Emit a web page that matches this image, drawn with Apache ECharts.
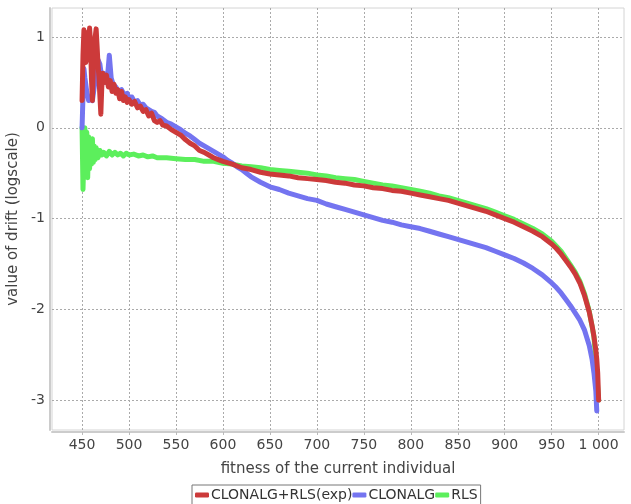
<!DOCTYPE html>
<html><head><meta charset="utf-8">
<script src="https://cdn.jsdelivr.net/npm/echarts@6/dist/echarts.min.js"></script>
<style>html,body{margin:0;padding:0;background:#fff}#c{width:631px;height:504px}</style>
</head><body><div id="c"></div>
<script>
const xTicks = [450, 500, 550, 600, 650, 700, 750, 800, 850, 900, 950, 1000];
const yTicks = [-3, -2, -1, 0, 1];
const seriesNames = ['CLONALG+RLS(exp)', 'CLONALG', 'RLS'];

const redX = [450,451,452,454,456,457,458,459,460,461,462,463,464,465,466,467,468,469,470,471,472,474,476,478,480,482,484,486,488,490,492,494,496,498,500,503,506,509,512,515,518,521,524,527,530,533,536,540,545,550,555,560,565,570,575,580,585,590,595,600,610,620,630,640,650,660,670,680,690,700,710,720,730,740,750,760,770,780,790,800,810,820,830,840,850,860,870,880,890,900,910,920,930,940,950,955,960,965,970,975,980,985,990,993,995,997,998,999,1000];
const redY = [0.30,0.80,1.08,0.72,1.05,0.75,1.10,0.95,0.55,0.30,0.65,0.85,1.00,1.09,0.90,0.70,0.55,0.35,0.15,0.45,0.60,0.50,0.58,0.45,0.52,0.40,0.48,0.38,0.42,0.32,0.40,0.30,0.34,0.28,0.31,0.26,0.29,0.22,0.24,0.18,0.20,0.13,0.16,0.08,0.06,0.08,0.03,0.02,-0.02,-0.05,-0.08,-0.13,-0.17,-0.20,-0.25,-0.27,-0.30,-0.33,-0.35,-0.37,-0.40,-0.44,-0.46,-0.49,-0.51,-0.52,-0.53,-0.55,-0.56,-0.57,-0.58,-0.60,-0.61,-0.63,-0.64,-0.66,-0.67,-0.69,-0.70,-0.72,-0.74,-0.76,-0.78,-0.80,-0.83,-0.86,-0.89,-0.92,-0.96,-1.00,-1.04,-1.09,-1.14,-1.20,-1.28,-1.33,-1.39,-1.46,-1.53,-1.61,-1.71,-1.85,-2.03,-2.18,-2.30,-2.45,-2.55,-2.70,-3.00];

const blueX = [450,451,452,453,455,457,459,461,463,465,467,469,471,473,475,477,479,481,483,486,489,492,495,498,500,503,506,509,512,515,518,521,524,527,530,535,540,545,550,555,560,565,570,575,580,585,590,595,600,605,610,615,620,625,630,640,650,660,670,680,690,700,710,720,730,740,750,760,770,780,790,800,810,820,830,840,850,860,870,880,890,900,910,920,930,940,950,955,960,965,970,975,980,985,990,993,995,997,998];
const blueY = [0.00,0.35,0.65,0.55,0.40,0.30,0.33,0.30,0.45,0.60,0.75,0.70,0.55,0.60,0.50,0.55,0.80,0.55,0.48,0.45,0.40,0.42,0.36,0.38,0.33,0.34,0.28,0.30,0.25,0.26,0.22,0.20,0.18,0.17,0.13,0.10,0.06,0.04,0.01,-0.02,-0.06,-0.09,-0.13,-0.17,-0.20,-0.23,-0.26,-0.29,-0.32,-0.36,-0.39,-0.43,-0.46,-0.50,-0.54,-0.60,-0.65,-0.68,-0.72,-0.75,-0.78,-0.80,-0.84,-0.87,-0.90,-0.93,-0.96,-0.99,-1.02,-1.04,-1.07,-1.09,-1.11,-1.14,-1.17,-1.20,-1.23,-1.26,-1.29,-1.32,-1.36,-1.40,-1.44,-1.49,-1.55,-1.62,-1.71,-1.76,-1.82,-1.89,-1.96,-2.04,-2.12,-2.23,-2.40,-2.55,-2.70,-2.90,-3.12];

const greenX = [450,451,452,453,454,455,456,457,458,459,460,461,462,463,464,465,467,469,471,473,476,479,482,485,488,491,494,497,500,505,510,515,520,525,530,540,550,560,570,580,590,600,610,620,630,640,650,660,670,680,690,700,710,720,730,740,750,760,770,780,790,800,810,820,830,840,850,860,870,880,890,900,910,920,930,940,950,960,970,975,980,985,990,995,1000];
const greenY = [0.00,-0.68,-0.30,0.00,-0.20,-0.05,-0.55,-0.10,-0.45,-0.15,-0.40,-0.12,-0.38,-0.20,-0.35,-0.22,-0.33,-0.25,-0.30,-0.27,-0.31,-0.26,-0.30,-0.27,-0.30,-0.28,-0.31,-0.28,-0.30,-0.29,-0.31,-0.30,-0.32,-0.31,-0.33,-0.33,-0.34,-0.35,-0.35,-0.37,-0.37,-0.39,-0.40,-0.42,-0.43,-0.44,-0.46,-0.47,-0.48,-0.49,-0.50,-0.52,-0.53,-0.55,-0.56,-0.57,-0.59,-0.61,-0.63,-0.64,-0.66,-0.68,-0.70,-0.72,-0.75,-0.77,-0.80,-0.83,-0.86,-0.89,-0.93,-0.97,-1.01,-1.06,-1.11,-1.17,-1.25,-1.36,-1.51,-1.59,-1.69,-1.83,-2.02,-2.30,-3.00];

const zip = (xs, ys) => xs.map((x, i) => [x, ys[i]]);
const colors = ['#cc3a3a', '#7474f0', '#5cef5c'];
const font = 'DejaVu Sans';

const chart = echarts.init(document.getElementById('c'), null, {renderer: 'canvas'});
const mk = (name, data, color, z) => ({
  name, type: 'line', data, z, showSymbol: false, symbol: 'none', animation: false,
  lineStyle: {width: 5, color, join: 'round', cap: 'round'}, itemStyle: {color}
});
chart.setOption({
  animation: false,
  backgroundColor: '#fff',
  grid: {left: 52, right: 7, top: 8, bottom: 74, outerBoundsMode: 'none', containLabel: false,
    show: true, borderColor: '#d4d4d4', borderWidth: 1, backgroundColor: '#fff'},
  xAxis: {
    type: 'value', min: 418, max: 1027, offset: 2,
    name: 'fitness of the current individual', nameLocation: 'middle', nameGap: 30,
    nameTextStyle: {fontFamily: font, fontSize: 15, color: '#444'},
    axisLine: {show: true, onZero: false, lineStyle: {color: '#cccccc', width: 2}},
    axisTick: {show: true, length: 3, lineStyle: {color: '#bbb'}, customValues: xTicks},
    axisLabel: {customValues: xTicks, fontFamily: font, fontSize: 14, color: '#444', margin: 6,
      formatter: v => v >= 1000 ? String(v).replace(/(\d)(\d{3})$/, '$1 $2') : String(v)},
    splitLine: {show: true, lineStyle: {color: '#aaaaaa', type: [2, 2], width: 1}}
  },
  yAxis: {
    type: 'value', min: -3.33, max: 1.32, offset: 2,
    name: 'value of drift (logscale)', nameLocation: 'middle', nameGap: 28,
    nameTextStyle: {fontFamily: font, fontSize: 15, color: '#444'},
    axisLine: {show: true, onZero: false, lineStyle: {color: '#cccccc', width: 2}},
    axisTick: {show: false, customValues: yTicks},
    axisLabel: {customValues: yTicks, fontFamily: font, fontSize: 14, color: '#444', margin: 5},
    splitLine: {show: true, lineStyle: {color: '#aaaaaa', type: [2, 2], width: 1}}
  },
  legend: {
    data: seriesNames, left: 192, bottom: -4, itemGap: 0, itemWidth: 14, itemHeight: 5,
    icon: 'roundRect', borderColor: '#777', borderWidth: 1, padding: [3, 3, 6, 3],
    textStyle: {fontFamily: font, fontSize: 14, color: '#333', padding: [0, 0, 0, -3]}
  },
  series: [
    mk(seriesNames[0], zip(redX, redY), colors[0], 3),
    mk(seriesNames[1], zip(blueX, blueY), colors[1], 2),
    mk(seriesNames[2], zip(greenX, greenY), colors[2], 1)
  ]
});
</script></body></html>
